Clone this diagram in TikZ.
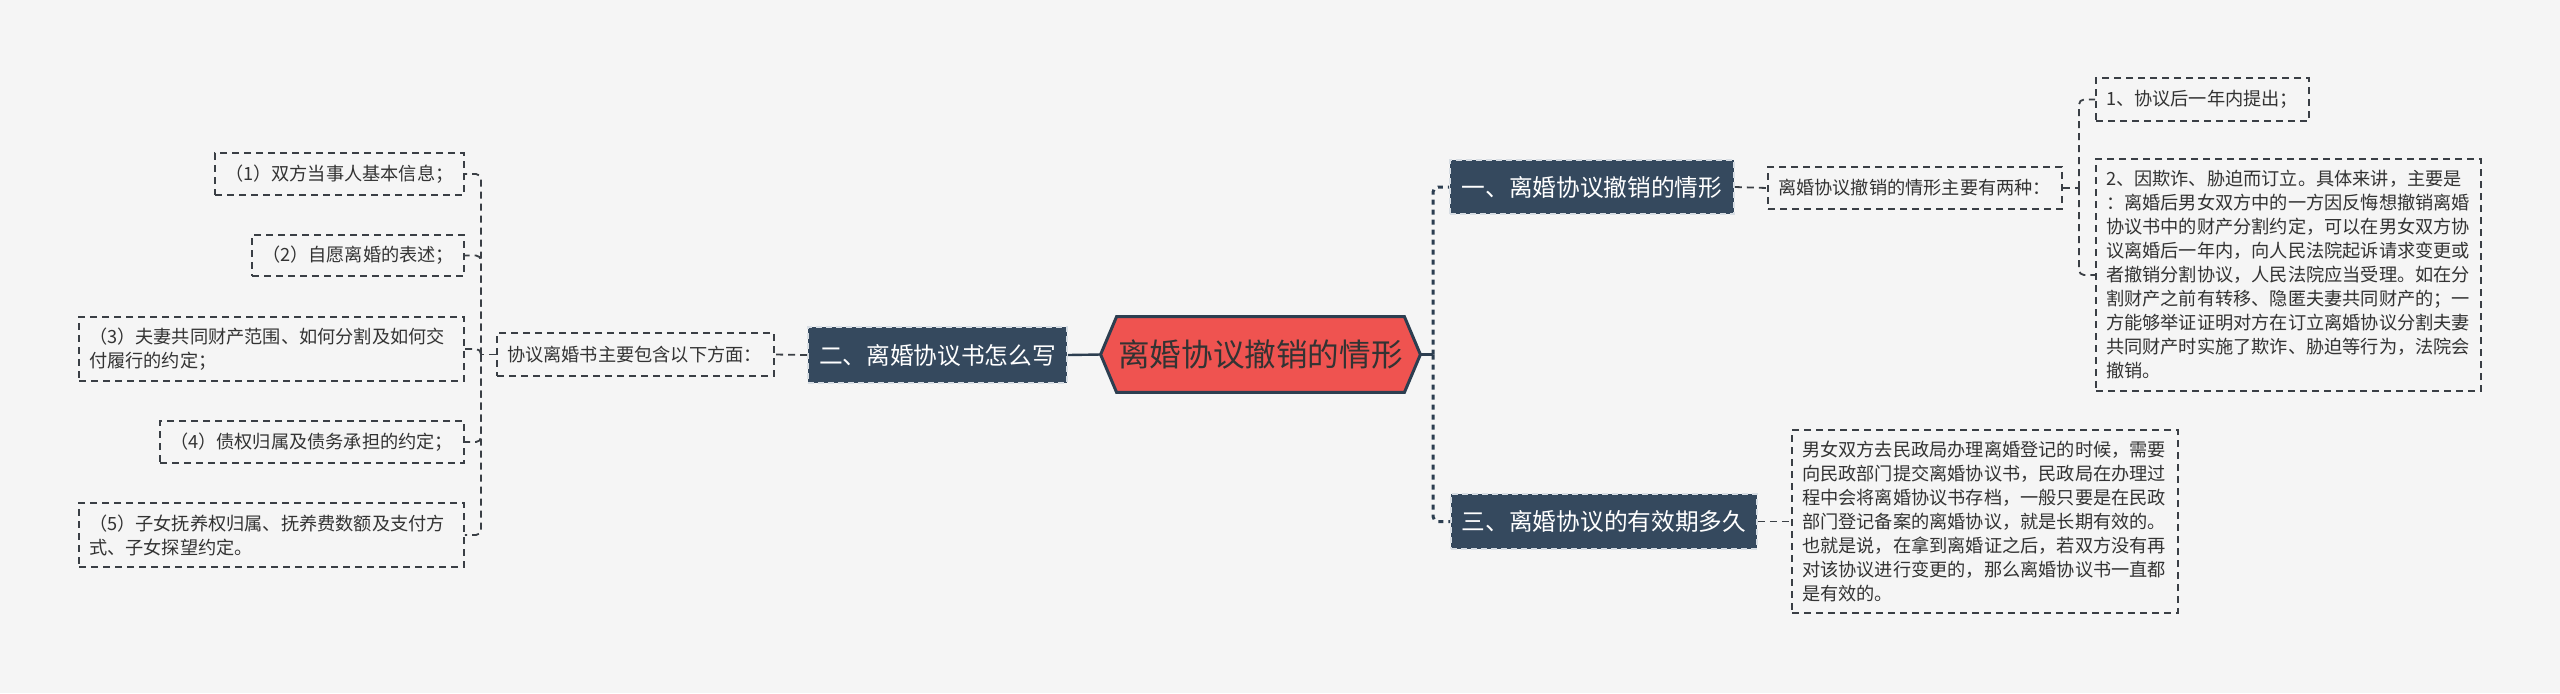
\documentclass[tikz,border=0pt]{standalone}
\usepackage{fontspec}
\setmainfont{Noto Sans CJK SC}
\pgfdeclarelayer{bglayer}
\pgfsetlayers{bglayer,main}
\definecolor{bgc}{HTML}{F5F5F5}
\definecolor{darkc}{HTML}{35495E}
\definecolor{rootc}{HTML}{EF5350}
\definecolor{trunkc}{HTML}{2C3E50}
\definecolor{linec}{HTML}{3A3F45}
\definecolor{textc}{HTML}{333333}
\definecolor{edgec}{HTML}{D8DEE4}
\tikzset{
  leafbox/.style={draw=linec, line width=0.9pt, dash pattern=on 3.5pt off 2.5pt,
    text=textc, font=\fontsize{9.1pt}{12pt}\selectfont, align=left,
    inner xsep=5pt, inner ysep=0pt, anchor=center},
  titlebox/.style={fill=darkc, draw=edgec, line width=0.8pt, dash pattern=on 3pt off 2pt,
    text=white, font=\fontsize{11.85pt}{14pt}\selectfont, inner sep=0pt, anchor=center},
  rootbox/.style={inner sep=0pt, anchor=center, text=textc,
    font=\fontsize{15.8pt}{18pt}\selectfont},
  leafline/.style={draw=linec, line width=0.9pt, dash pattern=on 3.5pt off 2.5pt, rounded corners=2.5pt},
  trunkline/.style={draw=trunkc, line width=1.5pt, dash pattern=on 2.5pt off 2.5pt, rounded corners=2.5pt},
  solidline/.style={draw=trunkc, line width=1.2pt},
}
\begin{document}
\begin{tikzpicture}[x=0.5pt,y=-0.5pt]
\begin{pgfonlayer}{bglayer}
\fill[bgc] (0,0) rectangle (2560,693);
\end{pgfonlayer}
\useasboundingbox (0,0) rectangle (2560,693);

% root
\node[rootbox, minimum width=159.5pt, minimum height=37.5pt] (root) at (1260.5,354.5) {离婚协议撤销的情形};
\begin{pgfonlayer}{bglayer}
\draw[fill=rootc, draw=trunkc, line width=1.5pt, line join=miter]
  (root.west) -- ([xshift=8pt]root.north west) -- ([xshift=-8pt]root.north east)
  -- (root.east) -- ([xshift=-8pt]root.south east) -- ([xshift=8pt]root.south west) -- cycle;
\end{pgfonlayer}

% title boxes
\node[titlebox, minimum width=129.5pt, minimum height=28pt] (two) at (937.5,355) {二、离婚协议书怎么写};
\node[titlebox, minimum width=142pt, minimum height=27pt] (one) at (1592,187) {一、离婚协议撤销的情形};
\node[titlebox, minimum width=153pt, minimum height=27.5pt] (three) at (1604,521.5) {三、离婚协议的有效期多久};

% left side
\node[leafbox, text width=128.5pt, minimum height=21.5pt] (lsub) at (635.5,354.5) {协议离婚书主要包含以下方面：};
\node[leafbox, text width=114.5pt, minimum height=21pt] (L1) at (339.5,174) {（1）双方当事人基本信息；};
\node[leafbox, text width=96pt, minimum height=20.5pt] (L2) at (358,255.5) {（2）自愿离婚的表述；};
\node[leafbox, text width=182.5pt, minimum height=32pt] (L3) at (271.5,349) {（3）夫妻共同财产范围、如何分割及如何交\\付履行的约定；};
\node[leafbox, text width=142pt, minimum height=21pt] (L4) at (312,442) {（4）债权归属及债务承担的约定；};
\node[leafbox, text width=182.5pt, minimum height=32pt] (L5) at (271.5,535) {（5）子女抚养权归属、抚养费数额及支付方\\式、子女探望约定。};

% right side
\node[leafbox, text width=137pt, minimum height=21pt] (sub1) at (1915,188) {离婚协议撤销的情形主要有两种：};
\node[leafbox, text width=96.5pt, minimum height=21.5pt] (r1) at (2202.5,99.5) {1、协议后一年内提出；};
\node[leafbox, text width=182.5pt, minimum height=116pt] (r2) at (2288.5,275) {2、因欺诈、胁迫而订立。具体来讲，主要是\\：离婚后男女双方中的一方因反悔想撤销离婚\\协议书中的财产分割约定，可以在男女双方协\\议离婚后一年内，向人民法院起诉请求变更或\\者撤销分割协议，人民法院应当受理。如在分\\割财产之前有转移、隐匿夫妻共同财产的；一\\方能够举证证明对方在订立离婚协议分割夫妻\\共同财产时实施了欺诈、胁迫等行为，法院会\\撤销。};
\node[leafbox, text width=183pt, minimum height=91.5pt] (r3) at (1985,521.5) {男女双方去民政局办理离婚登记的时候，需要\\向民政部门提交离婚协议书，民政局在办理过\\程中会将离婚协议书存档，一般只要是在民政\\部门登记备案的离婚协议，就是长期有效的。\\也就是说，在拿到离婚证之后，若双方没有再\\对该协议进行变更的，那么离婚协议书一直都\\是有效的。};

% connectors
\coordinate (rt) at (1433,354.5);
\coordinate (lb) at (481,354.5);
\coordinate (rb) at (2079,188);

\draw[solidline] (root.east) -- (rt);
\draw[solidline] (root.west) -- (two.east);
\draw[trunkline] (rt) |- (one.west);
\draw[trunkline] (rt) |- (three.west);

\draw[leafline] (two.west) -- (lsub.east);
\draw[leafline] (lsub.west) -- (lb);
\draw[leafline] (lb) |- (L1.east);
\draw[leafline] (lb) |- (L2.east);
\draw[leafline] (lb) |- (L3.east);
\draw[leafline] (lb) |- (L4.east);
\draw[leafline] (lb) |- (L5.east);

\draw[leafline] (one.east) -- (sub1.west);
\draw[leafline] (sub1.east) -- (rb);
\draw[leafline] (rb) |- (r1.west);
\draw[leafline] (rb) |- (r2.west);
\draw[leafline] (three.east) -- (r3.west);
\end{tikzpicture}
\end{document}
